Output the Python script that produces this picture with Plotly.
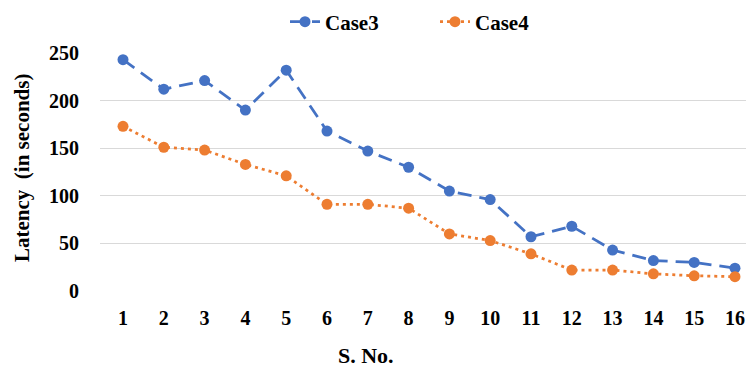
import plotly.graph_objects as go

s_no = list(range(1, 17))
case3 = [243, 212, 221, 190, 232, 168, 147, 130, 105, 96, 57, 68, 43, 32, 30, 24]
case4 = [173, 151, 148, 133, 121, 91, 91, 87, 60, 53, 39, 22, 22, 18, 16, 15]
y_ticks = [0, 50, 100, 150, 200, 250]

FONT = "Liberation Serif, Times New Roman, serif"
W, H = 746, 370
L, R, T, B = 100, 0, 53, 79
pw, ph = W - L - R, H - T - B

def px_x(px):
    return (px - L) / pw

def px_y(py):
    return (H - B - py) / ph

fig = go.Figure()
fig.add_trace(go.Scatter(
    x=s_no, y=case3, name="Case3", mode="lines+markers",
    line=dict(color="#4472C4", width=2.75, dash="14px,8px"),
    marker=dict(color="#4472C4", size=11),
))
fig.add_trace(go.Scatter(
    x=s_no, y=case4, name="Case4", mode="lines+markers",
    line=dict(color="#ED7D31", width=2.75, dash="3px,4px"),
    marker=dict(color="#ED7D31", size=11),
))

fig.update_layout(
    width=W, height=H,
    margin=dict(l=L, r=R, t=T, b=B),
    paper_bgcolor="white", plot_bgcolor="white",
    font=dict(family=FONT, size=20, color="#000000"),
    legend=dict(orientation="h", x=px_x(435), xanchor="center",
                y=px_y(22), yanchor="middle",
                font=dict(family=FONT, size=21, color="#000000", weight="bold"),
                entrywidth=105, entrywidthmode="pixels", tracegroupgap=0),
    xaxis=dict(range=[0.436, 16.27], tickmode="array", tickvals=s_no,
               ticktext=[str(v) for v in s_no],
               showgrid=False, zeroline=False, showline=False,
               ticks="outside", ticklen=9, tickcolor="rgba(0,0,0,0)",
               tickfont=dict(family=FONT, size=20, color="#000000", weight="bold")),
    yaxis=dict(range=[0, 250], tickmode="array", tickvals=y_ticks,
               ticktext=[str(v) for v in y_ticks],
               showgrid=True, gridcolor="#D9D9D9", gridwidth=1,
               zeroline=False, showline=False,
               ticks="outside", ticklen=16, tickcolor="rgba(0,0,0,0)",
               tickfont=dict(family=FONT, size=20, color="#000000", weight="bold")),
    annotations=[
        dict(text="Latency  (in seconds)", xref="paper", yref="paper",
             x=px_x(22), y=px_y(168), textangle=-90, showarrow=False,
             xanchor="center", yanchor="middle",
             font=dict(family=FONT, size=21, color="#000000", weight="bold")),
        dict(text="S. No.", xref="paper", yref="paper",
             x=px_x(366), y=px_y(355), showarrow=False,
             xanchor="center", yanchor="middle",
             font=dict(family=FONT, size=22, color="#000000", weight="bold")),
    ],
)

fig.write_html("out.html")
